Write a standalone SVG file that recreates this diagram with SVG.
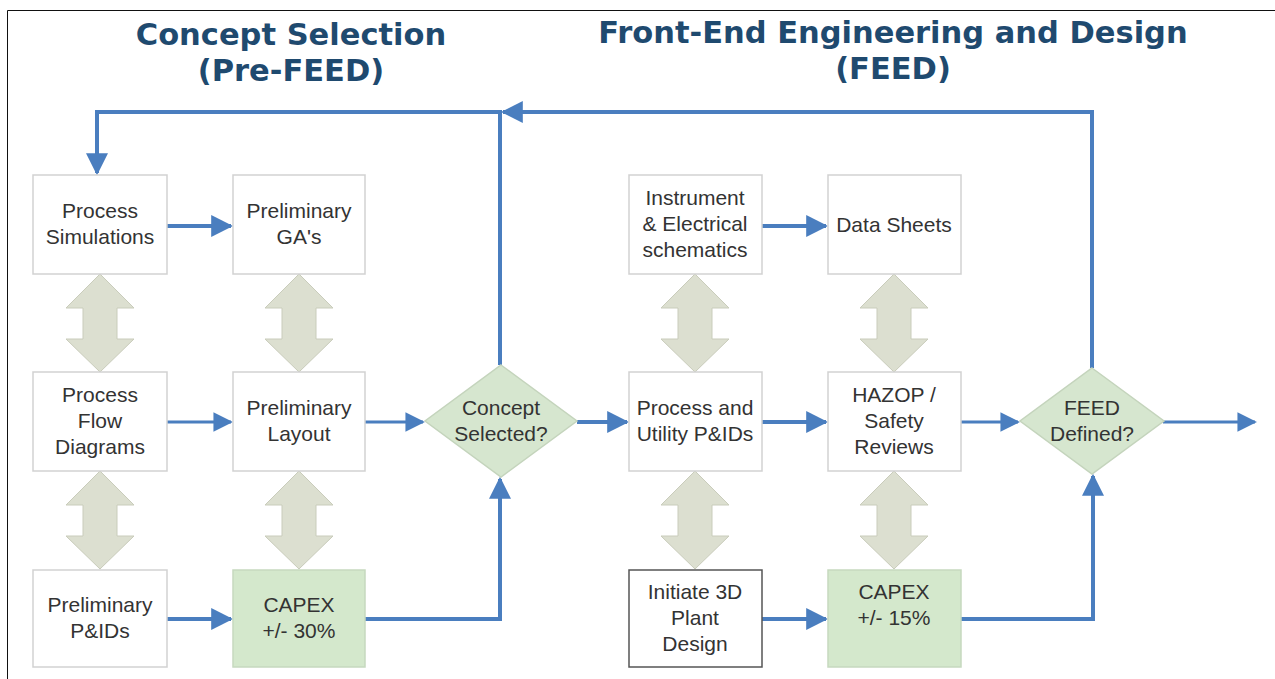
<svg xmlns="http://www.w3.org/2000/svg" width="1275" height="679" viewBox="0 0 1275 679">
<defs>
<style>
.title{font-family:"DejaVu Sans",Verdana,sans-serif;font-weight:bold;font-size:30.5px;fill:#1f4a6f;text-anchor:middle}
.box{fill:#ffffff;stroke:#d2d2d2;stroke-width:1.5}
.boxd{fill:#ffffff;stroke:#555555;stroke-width:1.5}
.green{fill:#d4e8cc;stroke:#c6d9bf;stroke-width:1.5}
.dia{fill:#d6e6cf;stroke:#c4d4bc;stroke-width:1.5}
.lbl{font-family:"Liberation Sans",Arial,sans-serif;font-size:21px;fill:#333333;text-anchor:middle}
.c{fill:none;stroke:#4a7ebf;stroke-width:4}
.ct{fill:none;stroke:#4a7ebf;stroke-width:3}
.dbl{fill:#dcdfd0;stroke:#c9ccbb;stroke-width:1}
</style>
<marker id="ah" viewBox="0 0 10 10" refX="9" refY="5" markerWidth="5.5" markerHeight="5.5" markerUnits="strokeWidth" orient="auto">
<path d="M0,0 L10,5 L0,10 z" fill="#4a7ebf"/>
</marker>
<marker id="aht" viewBox="0 0 10 10" refX="9" refY="5" markerWidth="6.5" markerHeight="6.5" markerUnits="strokeWidth" orient="auto">
<path d="M0,0 L10,5 L0,10 z" fill="#4a7ebf"/>
</marker>
<path id="darrow" class="dbl" d="M0,0 L34,34 L17,34 L17,65 L34,65 L0,98 L-34,65 L-17,65 L-17,34 L-34,34 z"/>
</defs>
<rect x="0" y="0" width="1275" height="679" fill="#ffffff"/>
<path d="M7.5,679 L7.5,10.5 L1275,10.5" fill="none" stroke="#111111" stroke-width="1"/>

<g id="titles">
<text class="title" x="291" y="45">Concept Selection</text>
<text class="title" x="291" y="81">(Pre-FEED)</text>
<text class="title" x="893" y="43">Front-End Engineering and Design</text>
<text class="title" x="893" y="79">(FEED)</text>
</g>

<g id="connectors">
<path class="c" d="M167,226 L231,226" marker-end="url(#ah)"/>
<path class="ct" d="M167,422 L231,422" marker-end="url(#aht)"/>
<path class="ct" d="M365,422 L423,422" marker-end="url(#aht)"/>
<path class="c" d="M167,619 L231,619" marker-end="url(#ah)"/>
<path class="c" d="M365,619 L500,619 L500,479" marker-end="url(#ah)"/>
<path class="c" d="M500,365 L500,112 L97,112 L97,173" marker-end="url(#ah)"/>
<path class="c" d="M1092,368 L1092,112 L503,112" marker-end="url(#ah)"/>
<path class="c" d="M577,422 L627,422" marker-end="url(#ah)"/>
<path class="c" d="M762,226 L826,226" marker-end="url(#ah)"/>
<path class="c" d="M762,422 L826,422" marker-end="url(#ah)"/>
<path class="ct" d="M961,422 L1018,422" marker-end="url(#aht)"/>
<path class="ct" d="M1163,422 L1255,422" marker-end="url(#aht)"/>
<path class="c" d="M762,619 L826,619" marker-end="url(#ah)"/>
<path class="c" d="M961,619 L1093,619 L1093,476" marker-end="url(#ah)"/>
</g>

<g id="double-arrows">
<use href="#darrow" x="100" y="274"/>
<use href="#darrow" x="299" y="274"/>
<use href="#darrow" x="100" y="471"/>
<use href="#darrow" x="299" y="471"/>
<use href="#darrow" x="695" y="274"/>
<use href="#darrow" x="894" y="274"/>
<use href="#darrow" x="695" y="471"/>
<use href="#darrow" x="894" y="471"/>
</g>

<g id="process-simulations">
<rect class="box" x="33" y="175" width="134" height="99"/>
<text class="lbl" x="100" y="218">Process</text>
<text class="lbl" x="100" y="244">Simulations</text>
</g>
<g id="preliminary-gas">
<rect class="box" x="233" y="175" width="132" height="99"/>
<text class="lbl" x="299" y="218">Preliminary</text>
<text class="lbl" x="299" y="244">GA's</text>
</g>
<g id="process-flow-diagrams">
<rect class="box" x="33" y="372" width="134" height="99"/>
<text class="lbl" x="100" y="402">Process</text>
<text class="lbl" x="100" y="428">Flow</text>
<text class="lbl" x="100" y="454">Diagrams</text>
</g>
<g id="preliminary-layout">
<rect class="box" x="233" y="372" width="132" height="99"/>
<text class="lbl" x="299" y="415">Preliminary</text>
<text class="lbl" x="299" y="441">Layout</text>
</g>
<g id="preliminary-pids">
<rect class="box" x="33" y="570" width="134" height="97"/>
<text class="lbl" x="100" y="612">Preliminary</text>
<text class="lbl" x="100" y="638">P&amp;IDs</text>
</g>
<g id="capex-30">
<rect class="green" x="233" y="570" width="132" height="97"/>
<text class="lbl" x="299" y="612">CAPEX</text>
<text class="lbl" x="299" y="638">+/- 30%</text>
</g>
<g id="concept-selected">
<polygon class="dia" points="501,365 577,421 501,477 425,421"/>
<text class="lbl" x="501" y="415">Concept</text>
<text class="lbl" x="501" y="441">Selected?</text>
</g>
<g id="instrument-electrical">
<rect class="box" x="629" y="175" width="133" height="99"/>
<text class="lbl" x="695" y="205">Instrument</text>
<text class="lbl" x="695" y="231">&amp; Electrical</text>
<text class="lbl" x="695" y="257">schematics</text>
</g>
<g id="data-sheets">
<rect class="box" x="828" y="175" width="133" height="99"/>
<text class="lbl" x="894" y="232">Data Sheets</text>
</g>
<g id="process-utility-pids">
<rect class="box" x="629" y="372" width="133" height="99"/>
<text class="lbl" x="695" y="415">Process and</text>
<text class="lbl" x="695" y="441">Utility P&amp;IDs</text>
</g>
<g id="hazop">
<rect class="box" x="828" y="372" width="133" height="99"/>
<text class="lbl" x="894" y="402">HAZOP /</text>
<text class="lbl" x="894" y="428">Safety</text>
<text class="lbl" x="894" y="454">Reviews</text>
</g>
<g id="initiate-3d">
<rect class="boxd" x="629" y="570" width="133" height="97"/>
<text class="lbl" x="695" y="599">Initiate 3D</text>
<text class="lbl" x="695" y="625">Plant</text>
<text class="lbl" x="695" y="651">Design</text>
</g>
<g id="capex-15">
<rect class="green" x="828" y="570" width="133" height="97"/>
<text class="lbl" x="894" y="599">CAPEX</text>
<text class="lbl" x="894" y="625">+/- 15%</text>
</g>
<g id="feed-defined">
<polygon class="dia" points="1092,368 1164,421 1092,474 1020,421"/>
<text class="lbl" x="1092" y="415">FEED</text>
<text class="lbl" x="1092" y="441">Defined?</text>
</g>
</svg>
